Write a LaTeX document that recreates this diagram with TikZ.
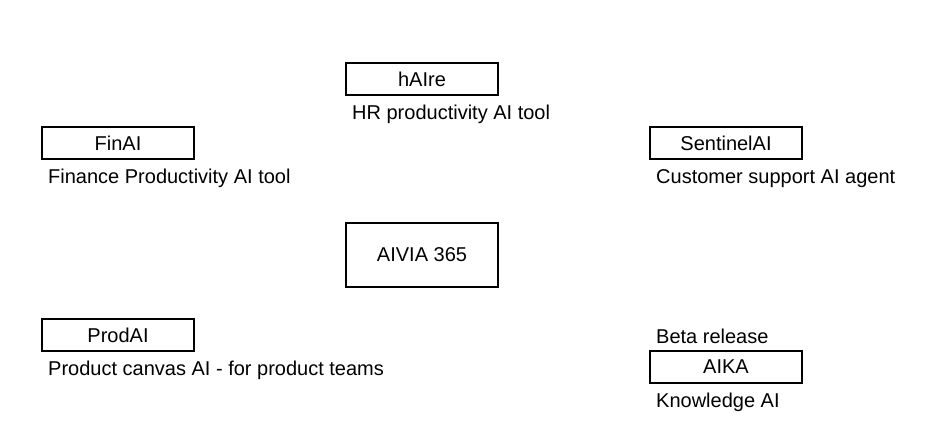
\documentclass[tikz,border=0pt]{standalone}
\usepackage{fontspec}
\setmainfont{Liberation Sans}
\begin{document}
\begin{tikzpicture}[x=1pt,y=-1pt,
  box/.style={draw=black,line width=2pt,fill=white,minimum width=152pt,minimum height=32pt,inner sep=0pt,font=\fontsize{20}{23}\selectfont,text=black},
  lbl/.style={anchor=base west,inner sep=0pt,font=\fontsize{20}{23}\selectfont,text=black}]
\useasboundingbox[fill=white] (0,0) rectangle (940,444);
\node[box] (haire) at (422,79) {hAIre};
\node[lbl] (hairel) at (352,119.5) {HR productivity AI tool};
\node[box] (finai) at (118,143) {FinAI};
\node[lbl] (finail) at (48,183.5) {Finance Productivity AI tool};
\node[box] (sentinel) at (726,143) {SentinelAI};
\node[lbl] (sentinell) at (656,183.5) {Customer support AI agent};
\node[box,minimum height=64pt] (aivia) at (422,255) {AIVIA 365};
\node[box] (prodai) at (118,335) {ProdAI};
\node[lbl] (prodail) at (48,375.5) {Product canvas AI - for product teams};
\node[lbl] (beta) at (656,343.5) {Beta release};
\node[box] (aika) at (726,367) {AIKA};
\node[lbl] (aikal) at (656,407.5) {Knowledge AI};
\end{tikzpicture}
\end{document}
